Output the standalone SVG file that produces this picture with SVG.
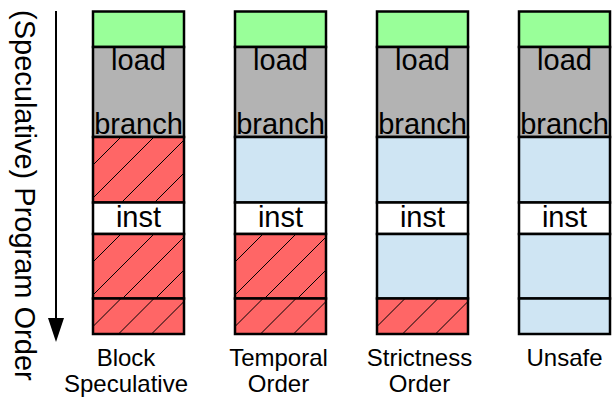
<svg xmlns="http://www.w3.org/2000/svg" width="613" height="399" viewBox="0 0 613 399">
<style>
text{font-family:"Liberation Sans",Arial,sans-serif;fill:#000}
.big{font-size:29px;text-anchor:middle}
.lbl{font-size:24px;text-anchor:middle}
.b{stroke:#000;stroke-width:2.5}
.g{fill:#99ff99}
.gr{fill:#b3b3b3}
.w{fill:#fff}
.bl{fill:#cfe5f3}
.r{fill:url(#hatch)}
</style>
<defs>
<pattern id="hatch" patternUnits="userSpaceOnUse" width="33" height="33">
<rect width="33" height="33" fill="#ff6666"/>
<path d="M0,28L28,0M28,33L33,28M-2,2L2,-2" stroke="#000" stroke-width="1"/>
</pattern>
</defs>

<text class="big" transform="translate(15,10) rotate(90)" style="text-anchor:start">(Speculative) Program Order</text>

<g id="connectors">
<path d="M56,11V320" stroke="#000" stroke-width="2"/>
<path d="M48,318L64,318L56,342Z" fill="#000"/>
</g>

<g id="col-block" transform="translate(93,0)">
<rect class="b g" x="0" y="11.5" width="91" height="35.5"/>
<rect class="b gr" x="0" y="47" width="91" height="90"/>
<g transform="translate(0,137)"><rect class="b r" width="91" height="65.5"/></g>
<rect class="b w" x="0" y="202.5" width="91" height="31.5"/>
<g transform="translate(0,234)"><rect class="b r" width="91" height="64.5"/></g>
<g transform="translate(0,298.5)"><rect class="b r" width="91" height="35.5"/></g>
<text class="big" x="45.5" y="70">load</text>
<text class="big" x="45.5" y="134">branch</text>
<text class="big" x="45.5" y="227">inst</text>
<text class="lbl" x="33" y="366">Block</text>
<text class="lbl" x="33" y="392">Speculative</text>
</g>

<g id="col-temporal" transform="translate(235,0)">
<rect class="b g" x="0" y="11.5" width="91" height="35.5"/>
<rect class="b gr" x="0" y="47" width="91" height="90"/>
<rect class="b bl" x="0" y="137" width="91" height="65.5"/>
<rect class="b w" x="0" y="202.5" width="91" height="31.5"/>
<g transform="translate(0,234)"><rect class="b r" width="91" height="64.5"/></g>
<g transform="translate(0,298.5)"><rect class="b r" width="91" height="35.5"/></g>
<text class="big" x="45.5" y="70">load</text>
<text class="big" x="45.5" y="134">branch</text>
<text class="big" x="45.5" y="227">inst</text>
<text class="lbl" x="43.5" y="366">Temporal</text>
<text class="lbl" x="43.5" y="392">Order</text>
</g>

<g id="col-strictness" transform="translate(377,0)">
<rect class="b g" x="0" y="11.5" width="91" height="35.5"/>
<rect class="b gr" x="0" y="47" width="91" height="90"/>
<rect class="b bl" x="0" y="137" width="91" height="65.5"/>
<rect class="b w" x="0" y="202.5" width="91" height="31.5"/>
<rect class="b bl" x="0" y="234" width="91" height="64.5"/>
<g transform="translate(0,298.5)"><rect class="b r" width="91" height="35.5"/></g>
<text class="big" x="45.5" y="70">load</text>
<text class="big" x="45.5" y="134">branch</text>
<text class="big" x="45.5" y="227">inst</text>
<text class="lbl" x="42.5" y="366">Strictness</text>
<text class="lbl" x="42.5" y="392">Order</text>
</g>

<g id="col-unsafe" transform="translate(519,0)">
<rect class="b g" x="0" y="11.5" width="91" height="35.5"/>
<rect class="b gr" x="0" y="47" width="91" height="90"/>
<rect class="b bl" x="0" y="137" width="91" height="65.5"/>
<rect class="b w" x="0" y="202.5" width="91" height="31.5"/>
<rect class="b bl" x="0" y="234" width="91" height="64.5"/>
<rect class="b bl" x="0" y="298.5" width="91" height="35.5"/>
<text class="big" x="45.5" y="70">load</text>
<text class="big" x="45.5" y="134">branch</text>
<text class="big" x="45.5" y="227">inst</text>
<text class="lbl" x="45.5" y="366">Unsafe</text>
</g>
</svg>
